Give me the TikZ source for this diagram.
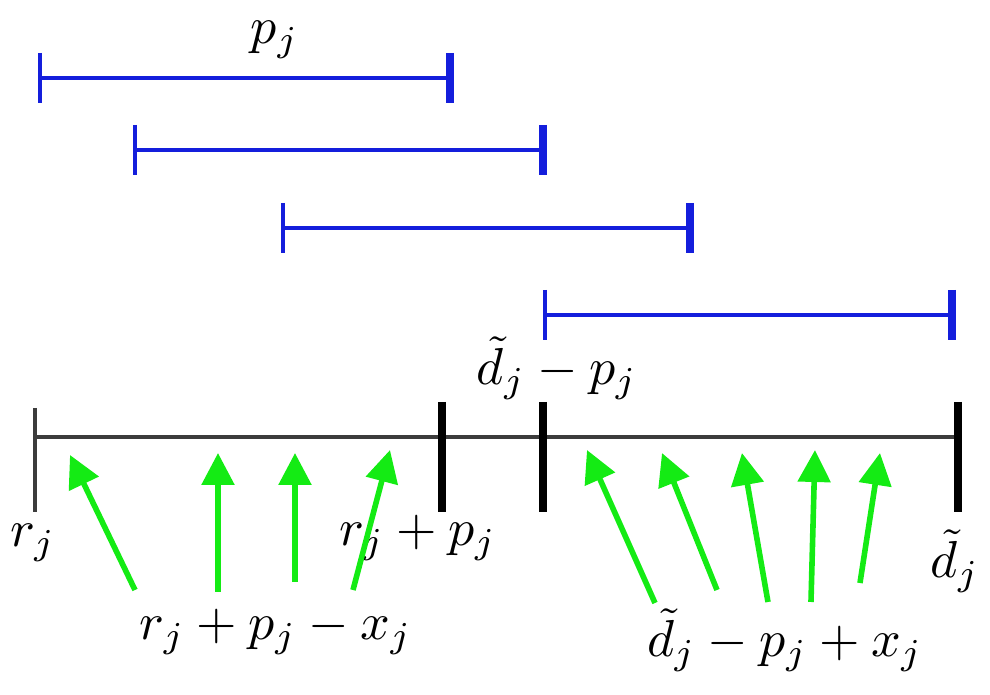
\documentclass[tikz,border=0pt]{standalone}
\usetikzlibrary{arrows.meta}
\definecolor{ivblue}{RGB}{20,30,220}
\definecolor{arrgreen}{RGB}{20,235,20}
\definecolor{axgray}{RGB}{60,60,60}
\newcommand{\lbltext}[1]{\scalebox{1.3}{$#1$}}
\begin{document}
\begin{tikzpicture}[x=0.25pt,y=-0.25pt,
  ivline/.style={draw=ivblue,line width=1pt},
  ivleft/.style={draw=ivblue,line width=1.2pt},
  ivright/.style={draw=ivblue,line width=2pt},
  axisline/.style={draw=axgray,line width=0.8pt},
  thintick/.style={draw=axgray,line width=1pt},
  thicktick/.style={draw=black,line width=1.9pt},
  garrow/.style={draw=arrgreen,line width=1.4pt,-{Triangle[length=8pt,width=8pt]}},
  lbl/.style={inner sep=0pt}]
\useasboundingbox (0,0) rectangle (990,695);
% blue intervals
\foreach \n/\a/\b/\y in {1/40/450/78, 2/135/543/150, 3/283/690/228, 4/545/952/315}{
  \coordinate (L\n) at (\a,\y);
  \coordinate (R\n) at (\b,\y);
  \draw[ivline] (L\n) -- (R\n);
  \draw[ivleft] (L\n) +(0,-25) -- +(0,25);
  \draw[ivright] (R\n) +(0,-25) -- +(0,25);
}
\node[lbl] (pj) at (275,40) {\lbltext{p_j}};
\node[lbl] (dmp) at (557,368) {\lbltext{\tilde d_j - p_j}};
% axis
\coordinate (A0) at (35,437);
\coordinate (A1) at (442,437);
\coordinate (A2) at (543,437);
\coordinate (A3) at (958,437);
\draw[axisline] (A0) -- (A3);
\draw[thintick] (A0) +(0,-29) -- +(0,75);
\draw[thicktick] (A1) +(0,-35) -- +(0,75);
\draw[thicktick] (A2) +(0,-35) -- +(0,75);
\draw[thicktick] (A3) +(0,-35) -- +(0,75);
% labels
\node[lbl] (rj) at (33,543) {\lbltext{r_j}};
\node[lbl] (rjpj) at (418,538) {\lbltext{r_j + p_j}};
\node[lbl] (rpx) at (276,632) {\lbltext{r_j + p_j - x_j}};
\node[lbl] (dj) at (955,561) {\lbltext{\tilde d_j}};
\node[lbl] (dpx) at (785,640) {\lbltext{\tilde d_j - p_j + x_j}};
% green arrows, left group
\foreach \n/\sx/\sy/\tx/\ty in {1/135/590/70/455, 2/218/592/218/453, 3/295/582/295/453, 4/353/590/390/450}{
  \coordinate (gs\n) at (\sx,\sy);
  \coordinate (gt\n) at (\tx,\ty);
  \draw[garrow] (gs\n) -- (gt\n);
}
% green arrows, right group
\foreach \n/\sx/\sy/\tx/\ty in {1/655/603/587/450, 2/717/590/662/453, 3/768/602/742/453, 4/811/602/815/450, 5/860/583/880/453}{
  \coordinate (hs\n) at (\sx,\sy);
  \coordinate (ht\n) at (\tx,\ty);
  \draw[garrow] (hs\n) -- (ht\n);
}
\end{tikzpicture}
\end{document}
